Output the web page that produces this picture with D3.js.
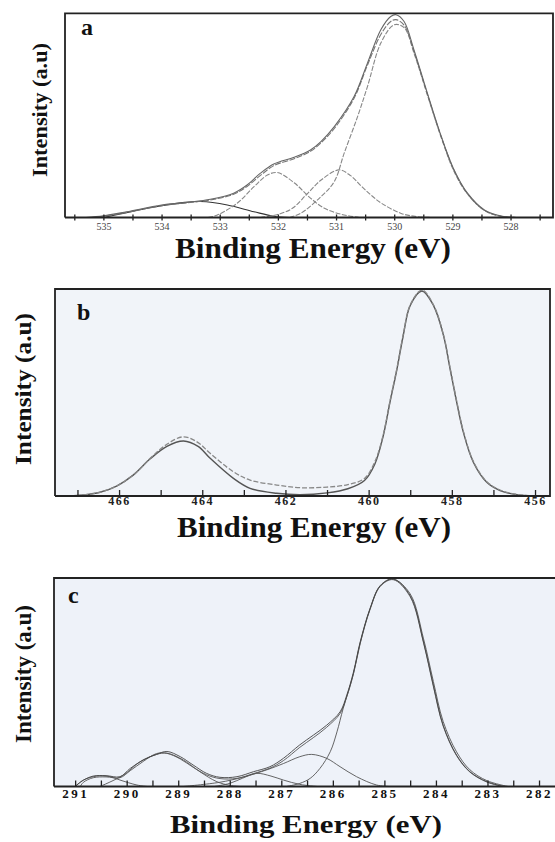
<!DOCTYPE html>
<html>
<head>
<meta charset="utf-8">
<script src="https://cdn.jsdelivr.net/npm/d3@7"></script>
<style>
  body { margin: 0; background: #fff; }
  svg { display: block; }
</style>
</head>
<body>
<div id="chart"></div>
<script>
// O 1s (panel a) : [binding energy eV, intensity %]
const aMeasured = [[535.3,0],[535.0,0.8],[534.6,2.8],[534.0,6.1],[533.56,7.4],[533.16,8.9],[532.76,11.9],[532.53,15.9],[532.3,21.7],[532.07,26.2],[531.72,29.5],[531.44,33.1],[531.26,37.2],[531.03,44.5],[530.69,59.2],[530.46,75.6],[530.23,91.9],[530.06,98.4],[529.97,99.3],[529.83,96.0],[529.66,82.1],[529.43,60.9],[529.19,39.6],[528.97,23.3],[528.74,11.9],[528.45,3.7],[528.16,0.7],[527.9,0]];
const aFit = [[535.2,0],[535.0,0.6],[534.6,2.5],[534.0,5.8],[533.56,7.2],[533.16,8.6],[532.76,11.4],[532.53,15.2],[532.3,20.6],[532.07,25.4],[531.72,28.8],[531.44,32.4],[531.26,36.5],[531.03,43.6],[530.69,58.4],[530.46,74.6],[530.23,89.6],[530.06,96.0],[529.97,96.9],[529.83,94.2],[529.66,81.2],[529.43,60.4],[529.19,39.4],[528.97,23.0],[528.74,11.6],[528.45,3.5],[528.16,0.6],[527.9,0]];
const aPeak530 = [[531.8,0],[531.61,2.0],[531.26,10.2],[531.03,17.6],[530.86,31.5],[530.63,49.4],[530.46,64.1],[530.23,85.4],[530.0,94.4],[529.83,93.0],[529.66,80.5],[529.43,60.0],[529.19,39.0],[528.97,22.5],[528.74,11.5],[528.45,3.5],[528.16,0.5],[527.9,0]];
const aPeak531 = [[532.3,0],[532.0,1.5],[531.75,4.5],[531.5,11.5],[531.25,18.5],[530.95,23.3],[530.75,20.5],[530.57,15.5],[530.4,11.0],[530.22,7.0],[529.88,2.0],[529.6,0.4],[529.3,0]];
const aPeak532 = [[533.2,0],[533.04,1.2],[532.7,7.0],[532.41,15.1],[532.18,20.8],[532.01,22.0],[531.72,17.0],[531.44,9.5],[531.2,4.5],[530.9,1.5],[530.6,0]];
const aPeak533 = [[535.0,0],[534.6,2.4],[534.02,5.6],[533.6,7.4],[533.33,7.8],[532.87,6.1],[532.41,2.8],[532.07,0.6],[531.8,0]];
const aTicks = [535.5,535,534.5,534,533.5,533,532.5,532,531.5,531,530.5,530,529.5,529,528.5,528,527.5];
const aTickLabels = [535,534,533,532,531,530,529,528];

// Ti 2p (panel b)
const bMeasured = [[467.2,0],[466.86,0.5],[466.46,1.8],[466.06,4.8],[465.66,10.1],[465.25,18.2],[464.85,25.0],[464.45,28.6],[464.1,25.8],[463.81,20.6],[463.25,11.7],[462.85,7.7],[462.21,5.3],[461.65,4.0],[461.0,4.3],[460.5,5.5],[460.1,8.5],[459.85,16.6],[459.65,29.5],[459.49,45.6],[459.32,61.7],[459.17,77.8],[459.0,92.3],[458.72,99.5],[458.44,92.3],[458.2,77.8],[458.04,61.7],[457.88,45.6],[457.72,31.1],[457.48,16.6],[457.16,6.9],[456.84,2.9],[456.44,0.8],[456.0,0]];
const bFit = [[467.2,0],[466.86,0.5],[466.46,1.8],[466.06,4.8],[465.66,10.1],[465.25,18.0],[464.85,24.0],[464.45,26.6],[464.1,24.0],[463.81,18.2],[463.25,8.5],[462.85,3.7],[462.21,1.3],[461.65,0.6],[461.0,1.5],[460.5,3.5],[460.1,7.5],[459.85,15.5],[459.65,29.0],[459.49,45.0],[459.32,61.2],[459.17,77.3],[459.0,92.0],[458.72,99.0],[458.44,92.0],[458.2,77.5],[458.04,61.2],[457.88,45.0],[457.72,30.6],[457.48,16.2],[457.16,6.6],[456.84,2.6],[456.44,0.6],[456.0,0]];
const bTicks = [467,466,465,464,463,462,461,460,459,458,457,456];
const bTickLabels = [466,464,462,460,458,456];

// C 1s (panel c)
const cMeasured = [[291.0,0],[290.84,3.0],[290.65,5.0],[290.4,5.2],[290.13,4.7],[289.93,8.7],[289.68,12.7],[289.42,15.4],[289.22,16.8],[288.96,14.3],[288.71,10.3],[288.45,6.3],[288.19,4.4],[287.86,4.7],[287.54,7.1],[287.22,9.5],[286.96,13.5],[286.64,20.0],[286.38,24.6],[286.12,29.4],[285.86,35.8],[285.73,43.8],[285.6,54.9],[285.47,69.3],[285.28,85.3],[285.08,96.4],[284.83,99.6],[284.5,91.6],[284.24,69.3],[284.05,48.6],[283.86,29.4],[283.6,15.1],[283.34,7.1],[283.01,2.3],[282.69,0]];
const cFit = [[290.9,0],[290.84,2.0],[290.65,4.2],[290.4,4.6],[290.13,4.2],[289.93,7.6],[289.68,12.0],[289.42,15.8],[289.22,15.9],[288.96,13.2],[288.71,9.2],[288.45,5.6],[288.19,3.8],[287.86,3.9],[287.54,6.2],[287.22,8.8],[286.96,12.4],[286.64,18.8],[286.38,23.4],[286.12,28.4],[285.86,35.0],[285.73,43.0],[285.6,54.2],[285.47,68.8],[285.28,85.0],[285.08,96.2],[284.83,99.4],[284.5,92.4],[284.24,70.8],[284.05,50.4],[283.86,31.2],[283.6,16.6],[283.34,8.0],[283.01,2.8],[282.6,0]];
const cPeak2848 = [[286.9,0],[286.64,1.5],[286.44,3.9],[286.25,8.7],[286.05,16.7],[285.92,26.2],[285.8,37.4],[285.6,54.0],[285.47,68.5],[285.28,84.8],[285.08,96.0],[284.83,99.2],[284.5,91.0],[284.24,68.8],[284.05,48.0],[283.86,29.0],[283.6,14.8],[283.34,6.9],[283.01,2.1],[282.69,0]];
const cPeak2863 = [[288.9,0],[288.2,2.0],[287.74,4.5],[287.28,8.0],[286.96,11.0],[286.64,14.3],[286.41,15.4],[286.12,13.5],[285.86,9.5],[285.54,4.7],[285.15,0.7],[284.9,0]];
const cPeak2874 = [[288.3,0],[288.0,1.5],[287.75,4.0],[287.48,6.3],[287.2,5.0],[286.96,3.1],[286.64,1.0],[286.3,0]];
const cPeak2893 = [[290.52,0],[290.06,5.5],[289.74,11.9],[289.42,15.4],[289.22,16.0],[288.9,12.7],[288.58,7.1],[288.25,2.3],[287.99,0.5],[287.8,0]];
const cPeak2906 = [[291.0,0],[290.84,3.1],[290.58,5.0],[290.32,4.7],[290.13,3.1],[289.8,0.7],[289.6,0]];
const cTicks = [291,290.5,290,289.5,289,288.5,288,287.5,287,286.5,286,285.5,285,284.5,284,283.5,283,282.5,282];
const cTickLabels = [291,290,289,288,287,286,285,284,283,282];

const width = 555;
const height = 842;
const serif = '"Liberation Serif", LiberationSerif, Tinos, "Nimbus Roman", FreeSerif, "DejaVu Sans", sans-serif';

const svg = d3.select('#chart').append('svg')
  .attr('width', width)
  .attr('height', height)
  .attr('font-family', serif);

svg.append('rect').attr('width', width).attr('height', height).attr('fill', '#fff');

const panels = [
  {
    letter: 'a', letterPos: [81, 34.5],
    left: 65, right: 553, top: 13.3, bottom: 217.5,
    domain: [535.66, 527.27],
    ticks: aTicks, tickShift: -3, tickSize: 6,
    labels: aTickLabels, labelPad: 5, labelSize: 10, labelWeight: 'normal', labelSpacing: 0, labelColor: '#444',
    rightBorder: true, tint: null,
    title: [313, 258, 30, 276],
    ytitle: [47, 110, 22, 134],
    curves: [
      { data: aPeak533, color: '#333', width: 1.1 },
      { data: aPeak532, color: '#888', width: 1.1, dash: '5,1.5' },
      { data: aPeak531, color: '#888', width: 1.1, dash: '5,1.5' },
      { data: aPeak530, color: '#888', width: 1.1, dash: '5,1.5' },
      { data: aFit, color: '#777', width: 1.1, dash: '6,1.5' },
      { data: aMeasured, color: '#666', width: 1.1 },
    ],
  },
  {
    letter: 'b', letterPos: [77, 320],
    left: 55, right: 550, top: 289, bottom: 496,
    domain: [467.54, 455.64],
    ticks: bTicks, tickShift: 0, tickSize: -6,
    labels: bTickLabels, labelPad: 0.5, labelSize: 12, labelWeight: 'bold', labelSpacing: 1.5, labelColor: '#222',
    rightBorder: true, tint: '#f1f4f9',
    title: [314, 537, 30, 274],
    ytitle: [31, 389, 24, 152],
    curves: [
      { data: bFit, color: '#555', width: 1.4 },
      { data: bMeasured, color: '#888', width: 1.3, dash: '5,2' },
    ],
  },
  {
    letter: 'c', letterPos: [68, 603],
    left: 54, right: 555, top: 578, bottom: 786.5,
    domain: [291.41, 281.69],
    ticks: cTicks, tickShift: 0, tickSize: -6,
    labels: cTickLabels, labelPad: 2, labelSize: 13, labelWeight: 'bold', labelSpacing: 2.5, labelColor: '#111',
    rightBorder: false, tint: '#eef2f9',
    title: [306, 833, 25, 272],
    ytitle: [30.5, 674, 23, 138],
    curves: [
      { data: cPeak2906, color: '#555', width: 0.9 },
      { data: cPeak2893, color: '#555', width: 0.9 },
      { data: cPeak2874, color: '#555', width: 0.9 },
      { data: cPeak2863, color: '#555', width: 0.9 },
      { data: cPeak2848, color: '#555', width: 0.9 },
      { data: cFit, color: '#555', width: 0.9 },
      { data: cMeasured, color: '#444', width: 0.9 },
    ],
  },
];

panels.forEach(drawPanel);

function drawPanel(p) {
  const g = svg.append('g');

  const x = d3.scaleLinear().domain(p.domain).range([p.left, p.right]);
  const y = d3.scaleLinear().domain([0, 100]).range([p.bottom, p.top]);

  if (p.tint) {
    g.append('rect')
      .attr('x', p.left).attr('y', p.top)
      .attr('width', p.right - p.left).attr('height', p.bottom - p.top)
      .attr('fill', p.tint);
  }

  const line = d3.line()
    .x((d) => x(d[0]))
    .y((d) => y(d[1]))
    .curve(d3.curveCatmullRom.alpha(0.5));

  g.selectAll('path.curve')
    .data(p.curves)
    .join('path')
    .attr('class', 'curve')
    .attr('d', (c) => line(c.data))
    .attr('fill', 'none')
    .attr('stroke', (c) => c.color)
    .attr('stroke-width', (c) => c.width)
    .attr('stroke-dasharray', (c) => c.dash || null);

  // tick marks only, no text
  const tickG = g.append('g')
    .attr('transform', `translate(0,${p.bottom + p.tickShift})`)
    .call(d3.axisBottom(x).tickValues(p.ticks).tickSize(p.tickSize));
  tickG.select('.domain').remove();
  tickG.selectAll('text').remove();
  tickG.selectAll('line')
    .attr('stroke', '#222')
    .attr('stroke-width', 1.3);

  // tick labels
  const labelG = g.append('g')
    .attr('transform', `translate(0,${p.bottom})`)
    .call(d3.axisBottom(x).tickValues(p.labels).tickSize(0).tickPadding(p.labelPad).tickFormat(d3.format('d')));
  labelG.select('.domain').remove();
  labelG.attr('font-family', serif);
  labelG.selectAll('text')
    .attr('font-size', p.labelSize)
    .attr('font-weight', p.labelWeight)
    .attr('letter-spacing', p.labelSpacing)
    .attr('fill', p.labelColor);

  // frame
  const frame = d3.path();
  frame.moveTo(p.left, p.bottom);
  frame.lineTo(p.left, p.top);
  frame.lineTo(p.right, p.top);
  if (p.rightBorder) frame.lineTo(p.right, p.bottom);
  else frame.moveTo(p.right, p.bottom);
  frame.lineTo(p.left, p.bottom);
  g.append('path')
    .attr('d', frame.toString())
    .attr('fill', 'none')
    .attr('stroke', '#222')
    .attr('stroke-width', 1.8);

  g.append('text')
    .attr('x', p.letterPos[0])
    .attr('y', p.letterPos[1])
    .attr('font-size', 24)
    .attr('font-weight', 'bold')
    .attr('fill', '#111')
    .text(p.letter);

  const [tx, ty, tsize, tlen] = p.title;
  g.append('text')
    .attr('x', tx)
    .attr('y', ty)
    .attr('text-anchor', 'middle')
    .attr('font-size', tsize)
    .attr('font-weight', 'bold')
    .attr('textLength', tlen)
    .attr('lengthAdjust', 'spacingAndGlyphs')
    .attr('fill', '#111')
    .text('Binding Energy (eV)');

  const [yx, yy, ysize, ylen] = p.ytitle;
  g.append('text')
    .attr('transform', `translate(${yx},${yy}) rotate(-90)`)
    .attr('text-anchor', 'middle')
    .attr('font-size', ysize)
    .attr('font-weight', 'bold')
    .attr('textLength', ylen)
    .attr('lengthAdjust', 'spacingAndGlyphs')
    .attr('fill', '#111')
    .text('Intensity (a.u)');
}
</script>
</body>
</html>
